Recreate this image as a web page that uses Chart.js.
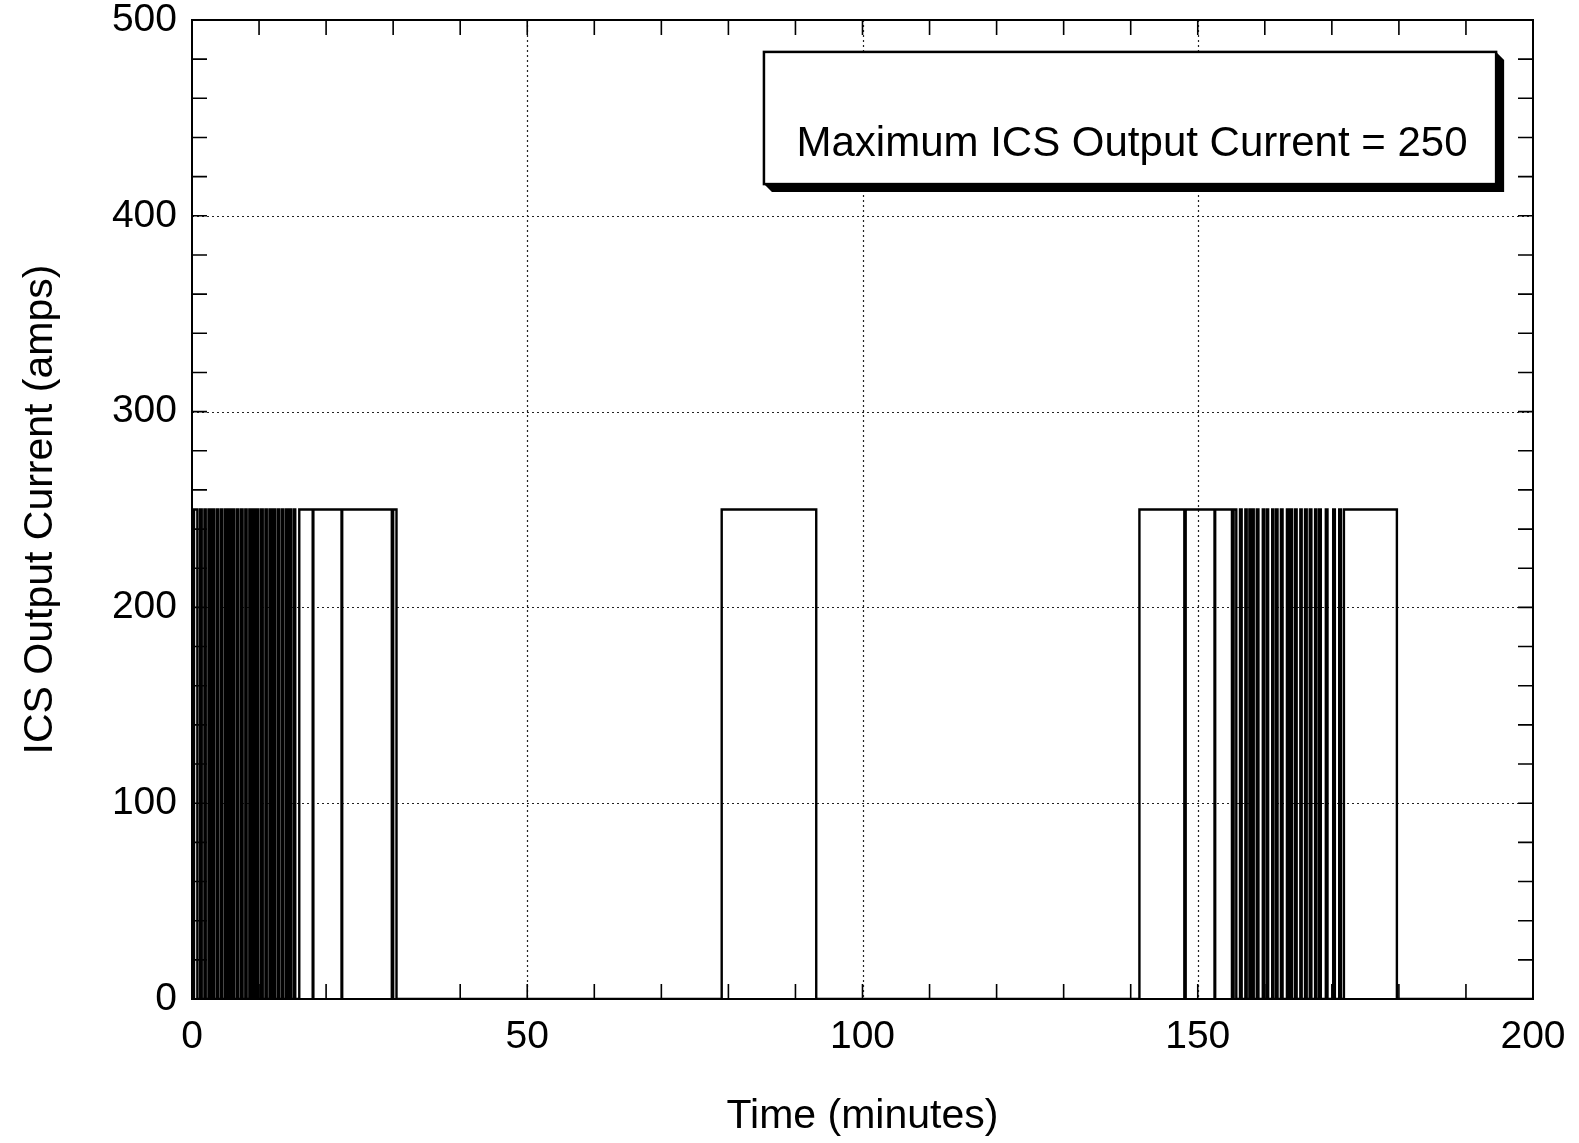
<!DOCTYPE html>
<html>
<head>
<meta charset="utf-8">
<script src="https://cdn.jsdelivr.net/npm/chart.js@4.4.1/dist/chart.umd.min.js"></script>
<style>
  html, body { margin: 0; padding: 0; background: #fff; }
</style>
</head>
<body>
<canvas id="graphique" width="1579" height="1143"></canvas>
<script>
// switching instants (minutes) and the current held from each instant on (amps)
const switchTimes = [
  0, 0.3, 0.8, 1.2, 1.45, 1.85, 2.05, 2.45, 2.7, 3.05, 3.3, 3.7, 3.9, 4.3, 4.55,
  4.95, 5.15, 5.5, 5.75, 6.1, 6.3, 6.7, 6.9, 7.3, 7.55, 7.95, 8.15, 8.55, 8.75,
  9.1, 9.35, 9.7, 9.9, 10.3, 10.55, 10.95, 11.15, 11.55, 11.75, 12.1, 12.35,
  12.75, 12.95, 13.35, 13.55, 13.95, 14.2, 14.55, 14.75, 15.15, 15.4,
  16.0, 18.0, 18.1, 22.3, 22.4, 29.8, 30.0, 30.5,
  79.0, 93.1,
  141.3, 148.0, 148.2, 152.5, 152.6, 155.1, 155.35, 155.75,
  156.3, 156.55, 157.1, 157.3, 157.7, 157.9, 158.15, 158.35, 158.8, 159.05,
  159.7, 159.9, 160.3, 160.5, 161.1, 161.3, 161.7, 161.9, 162.4, 162.65,
  163.3, 163.5, 163.85, 164.05, 164.5, 164.75, 165.3, 165.5, 166.0, 166.25,
  166.7, 166.95, 167.5, 167.7, 168.1, 168.35, 169.1, 169.35, 170.2, 170.45,
  171.1, 171.35, 171.8, 179.7, 200
];
const currentAmps = [
  0, 250, 0, 250, 0, 250, 0, 250, 0, 250, 0, 250, 0, 250, 0,
  250, 0, 250, 0, 250, 0, 250, 0, 250, 0, 250, 0, 250, 0,
  250, 0, 250, 0, 250, 0, 250, 0, 250, 0, 250, 0,
  250, 0, 250, 0, 250, 0, 250, 0, 250, 0,
  250, 0, 250, 0, 250, 0, 250, 0,
  250, 0,
  250, 0, 250, 0, 250, 0, 250, 0,
  250, 0, 250, 0, 250, 0, 250, 0, 250, 0,
  250, 0, 250, 0, 250, 0, 250, 0, 250, 0,
  250, 0, 250, 0, 250, 0, 250, 0, 250, 0,
  250, 0, 250, 0, 250, 0, 250, 0, 250, 0,
  250, 0, 250, 0, 0
];
const xTickLabels = [0, 50, 100, 150, 200];
const yTickLabels = [0, 100, 200, 300, 400, 500];
const annotation = "Maximum ICS Output Current = 250";

const police = '"Liberation Sans", Arial, Helvetica, sans-serif';

const cadre = {
  id: "cadre",
  beforeDatasetsDraw(chart) {
    const { ctx, chartArea: a, scales: { x, y } } = chart;
    ctx.save();
    ctx.strokeStyle = "#222";
    ctx.lineWidth = 1.2;
    ctx.setLineDash([2, 3]);
    ctx.beginPath();
    for (const v of [50, 100, 150]) {
      const px = Math.round(x.getPixelForValue(v)) + 0.5;
      ctx.moveTo(px, a.top); ctx.lineTo(px, a.bottom);
    }
    for (const v of [100, 200, 300, 400]) {
      const py = Math.round(y.getPixelForValue(v)) + 0.5;
      ctx.moveTo(a.left, py); ctx.lineTo(a.right, py);
    }
    ctx.stroke();
    ctx.restore();
  },
  afterDatasetsDraw(chart) {
    const { ctx, chartArea: a, scales: { x, y } } = chart;
    ctx.save();
    ctx.strokeStyle = "#000";
    ctx.lineWidth = 2;
    ctx.strokeRect(a.left, a.top, a.right - a.left, a.bottom - a.top);

    // petites graduations vers l'intérieur
    const len = 15;
    ctx.lineWidth = 1.6;
    ctx.beginPath();
    for (let v = 10; v < 200; v += 10) {
      const px = x.getPixelForValue(v);
      ctx.moveTo(px, a.top); ctx.lineTo(px, a.top + len);
      ctx.moveTo(px, a.bottom); ctx.lineTo(px, a.bottom - len);
    }
    for (let v = 20; v < 500; v += 20) {
      const py = y.getPixelForValue(v);
      ctx.moveTo(a.left, py); ctx.lineTo(a.left + len, py);
      ctx.moveTo(a.right, py); ctx.lineTo(a.right - len, py);
    }
    ctx.stroke();

    // encadré avec ombre
    const bx1 = x.getPixelForValue(85.3), bx2 = x.getPixelForValue(194.5);
    const by1 = y.getPixelForValue(483.7), by2 = y.getPixelForValue(416.2);
    const off = 8;
    ctx.fillStyle = "#000";
    ctx.beginPath();
    ctx.moveTo(bx2, by1);
    ctx.lineTo(bx2 + off, by1 + off);
    ctx.lineTo(bx2 + off, by2 + off);
    ctx.lineTo(bx1 + off, by2 + off);
    ctx.lineTo(bx1, by2);
    ctx.closePath();
    ctx.fill();
    ctx.fillStyle = "#fff";
    ctx.fillRect(bx1, by1, bx2 - bx1, by2 - by1);
    ctx.lineWidth = 2.5;
    ctx.strokeRect(bx1, by1, bx2 - bx1, by2 - by1);
    ctx.fillStyle = "#000";
    ctx.font = "42px " + police;
    ctx.textAlign = "center";
    ctx.textBaseline = "alphabetic";
    ctx.fillText(annotation, (bx1 + bx2) / 2 + 2, by1 + 104);
    ctx.restore();
  }
};

new Chart(document.getElementById("graphique"), {
  type: "line",
  data: {
    datasets: [{
      label: "ICS Output Current",
      data: switchTimes.map((t, i) => ({ x: t, y: currentAmps[i] })),
      borderColor: "#000",
      borderWidth: 2.4,
      pointRadius: 0,
      stepped: "before",
      fill: false
    }]
  },
  options: {
    responsive: false,
    devicePixelRatio: 1,
    animation: false,
    layout: { padding: { top: 20, right: 46, left: 0, bottom: 0 } },
    plugins: { legend: { display: false }, tooltip: { enabled: false } },
    scales: {
      x: {
        type: "linear",
        min: 0,
        max: 200,
        afterBuildTicks: s => { s.ticks = xTickLabels.map(v => ({ value: v })); },
        afterFit: s => { s.height = 144; s.paddingLeft = 0; s.paddingRight = 0; },
        ticks: {
          color: "#000",
          font: { family: police, size: 39, lineHeight: 1 },
          padding: 19,
          maxRotation: 0,
          autoSkip: false
        },
        grid: { display: false, drawTicks: false },
        border: { display: false },
        title: {
          display: true,
          text: "Time (minutes)",
          color: "#000",
          font: { family: police, size: 41 },
          padding: { top: 0, bottom: 2 }
        }
      },
      y: {
        min: 0,
        max: 500,
        afterBuildTicks: s => { s.ticks = yTickLabels.map(v => ({ value: v })); },
        afterFit: s => { s.width = 192; s.paddingTop = 0; s.paddingBottom = 0; },
        ticks: {
          color: "#000",
          font: { family: police, size: 39, lineHeight: 1 },
          padding: 15
        },
        grid: { display: false, drawTicks: false },
        border: { display: false },
        title: {
          display: true,
          text: "ICS Output Current (amps)",
          color: "#000",
          font: { family: police, size: 41 },
          padding: { top: 16, bottom: 0 }
        }
      }
    }
  },
  plugins: [cadre]
});
</script>
</body>
</html>
